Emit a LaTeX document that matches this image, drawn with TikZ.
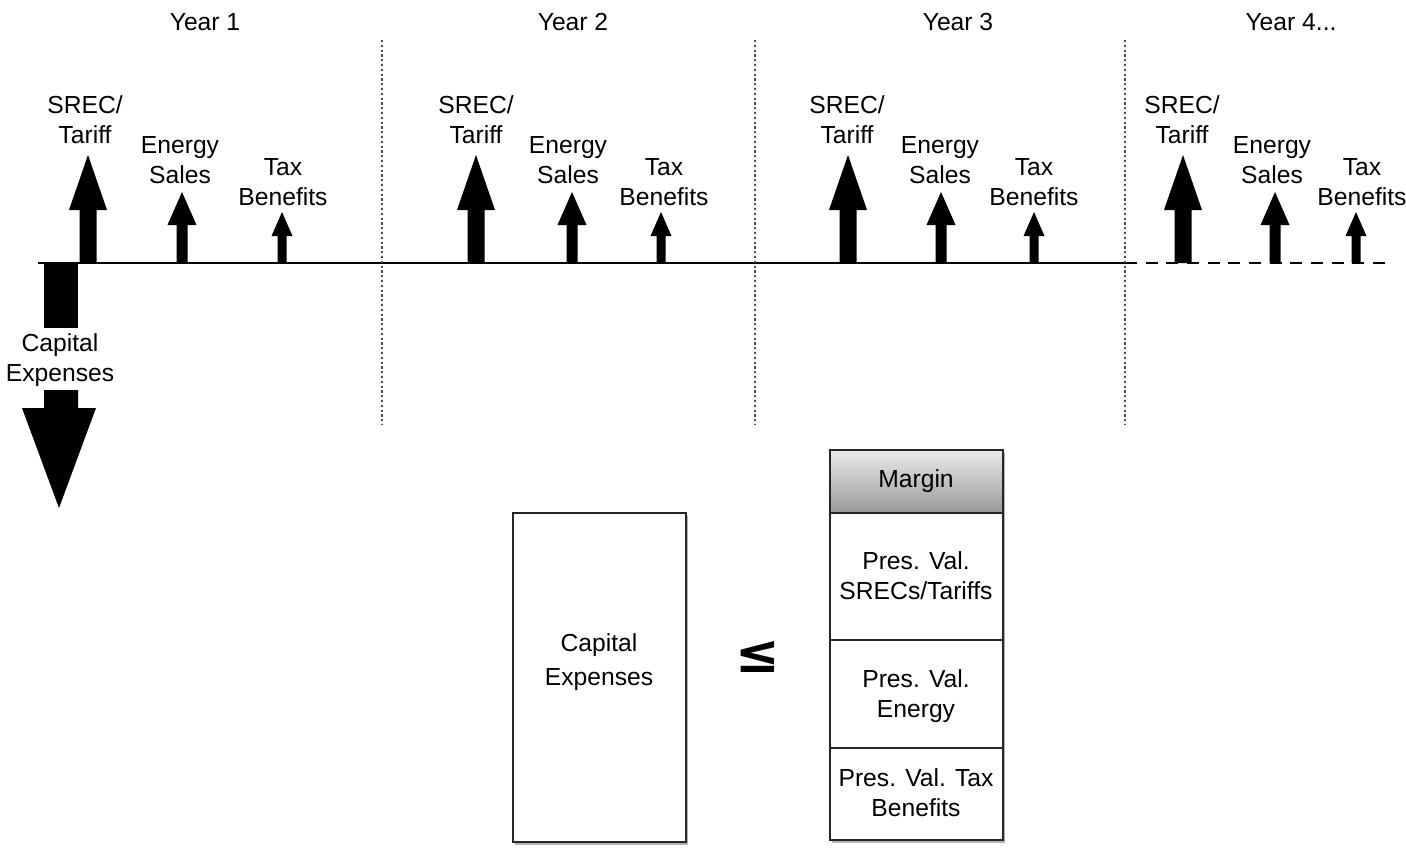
\documentclass[tikz,border=0pt]{standalone}
\usepackage{fontspec}
\setmainfont{Liberation Sans}
\newfontfamily\symfont{DejaVu Sans}
\usetikzlibrary{shadows}

\tikzset{every picture/.style={line width=0.75pt}}
\tikzset{
  lbl/.style={align=center, inner sep=0.75pt, font=\fontsize{18.5}{22.5}\selectfont},
  yeardiv/.style={draw=black!70, line width=1pt, dash pattern=on 1.6pt off 2pt},
  boxline/.style={draw=black!85, line width=1.3pt},
  boxshadow/.style={drop shadow={shadow xshift=1.5pt, shadow yshift=-2pt, opacity=0.5, fill=black!60}},
  relsign/.style={inner sep=0pt, font=\symfont\bfseries\fontsize{40}{40}\selectfont},
}
% x, tip y, head base y, head half width, shaft half width
\newcommand{\upflow}[5]{%
  \fill (#1,#2) -- (#1+#4,#3) -- (#1+#5,#3) -- (#1+#5,263) -- (#1-#5,263) -- (#1-#5,#3) -- (#1-#4,#3) -- cycle ;}

\begin{document}
\begin{tikzpicture}[x=0.75pt,y=0.75pt,yscale=-1,xscale=1]
\path[use as bounding box] (0,0) rectangle (1406,851);

%Time axis
\draw [line width=1.2pt]   (38,263) -- (1125,263) ;
\draw [line width=1.2pt, dash pattern=on 9pt off 6.5pt]   (1125,263) -- (1392,263) ;

%Year dividers
\foreach \d in {382,755,1125} {
  \draw [yeardiv]   (\d,40) -- (\d,425) ;
}

% Year labels
\node [lbl] (yr1) at (205,22) {Year 1};
\node [lbl] (yr2) at (573,22) {Year 2};
\node [lbl] (yr3) at (958,22) {Year 3};
\node [lbl] (yr4) at (1291,22) {Year 4...};

%Cash inflows per year
\foreach \s/\e/\t/\ls/\le/\lt [count=\i] in {88/182/282/85/180/283, 476/572/661/476/568/664, 848/941/1034/847/940/1034, 1183/1275/1356/1182/1272/1362} {
  \upflow{\s}{155}{210}{19}{8.5}
  \upflow{\e}{192}{225}{14.5}{5.5}
  \upflow{\t}{212}{236}{10.5}{4.5}
  \node [lbl] (srec\i) at (\ls,120) {SREC/\\Tariff};
  \node [lbl] (energy\i) at (\le,160) {Energy\\Sales};
  \node [lbl] (tax\i) at (\lt,182) {Tax\\Benefits};
}

%Capital expense outflow
\fill (44,263) -- (78,263) -- (78,328) -- (44,328) -- cycle ;
\fill (44,390) -- (78,390) -- (78,408) -- (96,408) -- (59,508) -- (22,408) -- (44,408) -- cycle ;
\node [lbl] (capex) at (60,360) {Capital\\Expenses};

%Comparison boxes
\draw [boxline, boxshadow, fill=white]   (513,513) rectangle (686,842) ;
\node [lbl, font=\fontsize{18.5}{25}\selectfont] (capbox) at (599,662) {Capital\\Expenses};

\node [relsign] (leq) at (758,657) {≤};

\path [boxshadow, fill=white]   (830,450) rectangle (1003,840) ;
\draw [boxline, top color=black!8, bottom color=black!40]   (830,450) rectangle (1003,513) ;
\draw [boxline, fill=white]   (830,513) rectangle (1003,640) ;
\draw [boxline, fill=white]   (830,640) rectangle (1003,748) ;
\draw [boxline, fill=white]   (830,748) rectangle (1003,840) ;
\node [lbl] (margin) at (916,481) {Margin};
\node [lbl] (pvsrec) at (916,576) {Pres. Val.\\SRECs/Tariffs};
\node [lbl] (pvenergy) at (916,696) {Pres. Val.\\Energy};
\node [lbl] (pvtax) at (916,793) {Pres. Val. Tax\\Benefits};

\end{tikzpicture}
\end{document}
